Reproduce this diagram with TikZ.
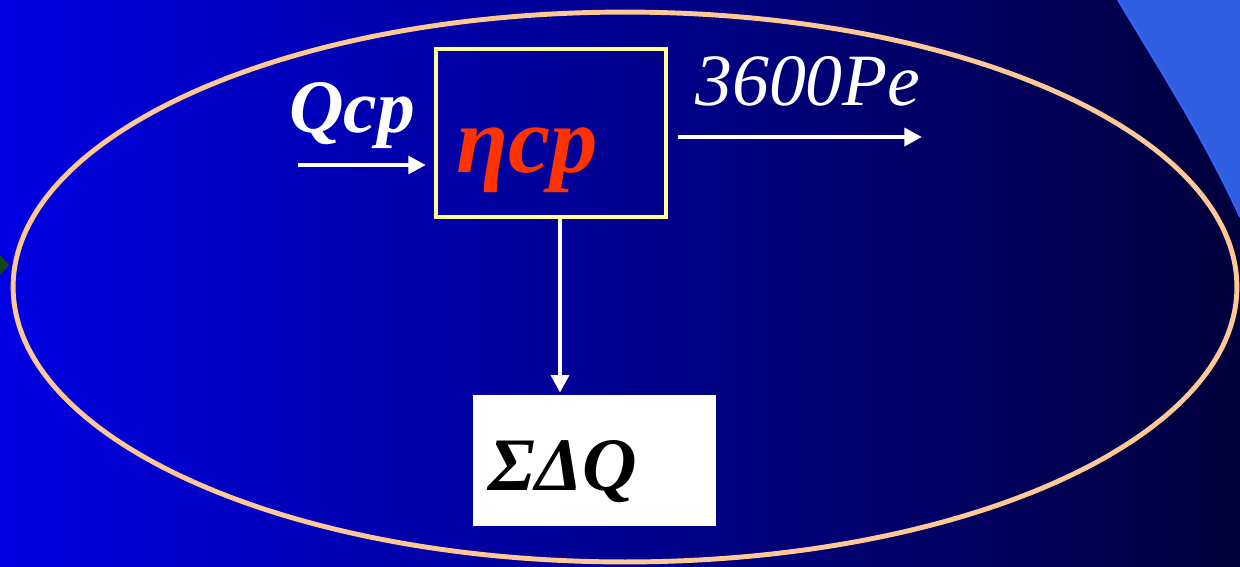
\documentclass[tikz,border=0pt]{standalone}
\usepackage{fontspec}
\setmainfont{Liberation Serif}
\usepackage{tikz}
\usetikzlibrary{arrows.meta,positioning,calc}

\definecolor{bgleft}{RGB}{0,0,226}
\definecolor{bgright}{RGB}{0,0,60}
\definecolor{rim}{RGB}{255,200,150}
\definecolor{boxyellow}{RGB}{255,255,150}
\definecolor{etared}{RGB}{255,51,0}
\definecolor{cornerblue}{RGB}{48,94,224}
\definecolor{cornerline}{RGB}{51,102,255}
\definecolor{bulletgreen}{RGB}{20,70,20}

\begin{document}
\begin{tikzpicture}[x=0.02cm,y=-0.02cm,
		big/.style={font=\fontsize{43}{50}\selectfont\bfseries\itshape, inner sep=0pt, anchor=base},
		flow/.style={white, line width=2.5pt, -{Triangle[length=10pt,width=10pt]}}]
		\useasboundingbox (0,0) rectangle (1240,566);
		% background
		\shade[left color=bgleft, right color=bgright] (0,0) rectangle (1240,566);
		\fill[cornerblue] (1118,0) .. controls (1160,70) and (1205,140) .. (1240,217) -- (1240,0) -- cycle;
		\draw[cornerline, line width=1pt] (1118,0) .. controls (1160,70) and (1205,140) .. (1240,217);
		\fill[bulletgreen] (-9,265) -- (0,255) -- (9,265) -- (0,275) -- cycle;
		\draw[rim, line width=2.8pt] (625,287) ellipse [x radius=12.24cm, y radius=5.5cm];

		% boxes
		\node[draw=boxyellow, line width=2.5pt, minimum width=4.6cm, minimum height=3.36cm, inner sep=0pt] (core) at (551,133) {};
		\node[big, text=etared, font=\fontsize{54}{60}\selectfont\bfseries\itshape] (eta) at (527,172) {ηcp};
		\node[fill=white, minimum width=4.86cm, minimum height=2.62cm, inner sep=0pt] (loss) at (594.5,460.5) {};
		\node[big, text=black] (sum) at (563,490) {ΣΔQ};

		% flows
		\node[big, text=white] (qin) at (352,132) {Qcp};
		\node[big, text=white, font=\fontsize{42}{48}\selectfont\itshape] (pe) at (808,105) {3600Pe};
		\coordinate (qstart) at (298,165);
		\coordinate (peend) at (922,137);
		\coordinate (drop) at (560,0);
		\draw[flow, shorten >=0.16cm] (qstart) -- (qstart -| core.west);
		\draw[flow, shorten <=0.2cm] (core.east |- peend) -- (peend);
		\draw[flow, shorten >=0.04cm] (core.south -| drop) -- (loss.north -| drop);
	\end{tikzpicture}
\end{document}
